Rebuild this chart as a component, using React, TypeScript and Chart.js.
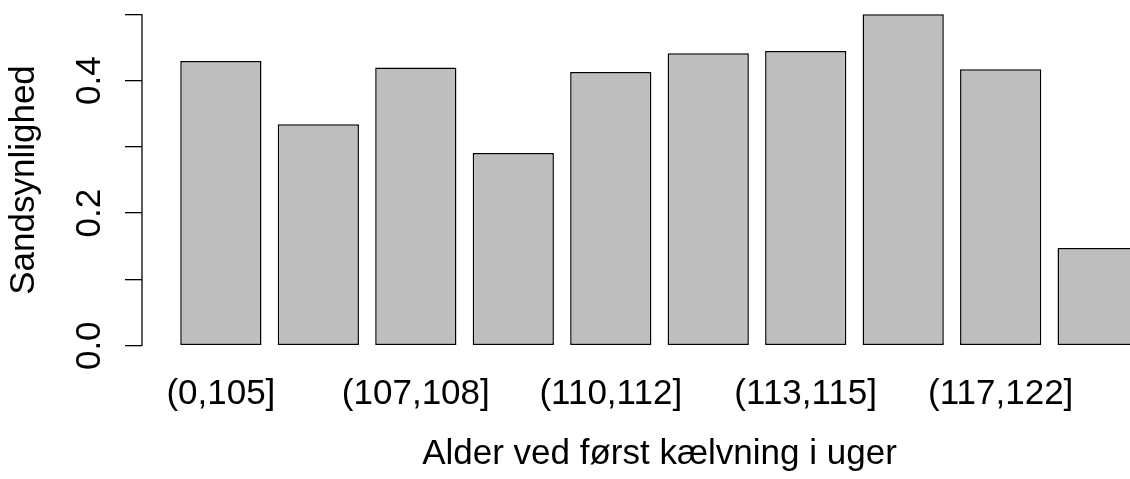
import React, { useEffect, useRef } from "react";
import { Chart, registerables } from "chart.js";

Chart.register(...registerables);

const categories = [
  "(0,105]",
  "(105,107]",
  "(107,108]",
  "(108,110]",
  "(110,112]",
  "(112,113]",
  "(113,115]",
  "(115,117]",
  "(117,122]",
  "(122,150]",
];
const probabilities = [0.4296, 0.3342, 0.4197, 0.2909, 0.413, 0.4412, 0.4447, 0.5, 0.4171, 0.1473];
const yTickValues = [0, 0.1, 0.2, 0.3, 0.4, 0.5];
const yLabelledTicks = [0, 0.2, 0.4];
const xLabelStep = 2;
const xTitle = "Alder ved først kælvning i uger";
const yTitle = "Sandsynlighed";

const FONT = "'Liberation Sans', Arial, Helvetica, sans-serif";

const axisLinePlugin = {
  id: "rAxisLine",
  afterDraw(chart: any) {
    const ctx = chart.ctx;
    const y = chart.scales.y;
    const x = chart.chartArea.left;
    ctx.save();
    ctx.strokeStyle = "#000";
    ctx.lineWidth = 1.3;
    ctx.beginPath();
    ctx.moveTo(x, y.getPixelForValue(yTickValues[0]));
    ctx.lineTo(x, y.getPixelForValue(yTickValues[yTickValues.length - 1]));
    ctx.stroke();
    ctx.restore();
  },
};

const zeroPadding = (scale: any) => {
  scale.paddingLeft = 0;
  scale.paddingRight = 0;
  scale.paddingTop = 0;
  scale.paddingBottom = 0;
};

export default function App() {
  const ref = useRef<HTMLCanvasElement | null>(null);

  useEffect(() => {
    if (!ref.current) return;
    const chart = new Chart(ref.current, {
      type: "bar",
      data: {
        datasets: [
          {
            data: probabilities.map((v, i) => ({ x: i, y: v })),
            backgroundColor: "#BEBEBE",
            borderColor: "#000000",
            borderWidth: 1.5,
            borderSkipped: false,
            barPercentage: 1 / 1.2,
            categoryPercentage: 1,
          },
        ],
      },
      options: {
        animation: false,
        responsive: false,
        devicePixelRatio: 1,
        layout: { autoPadding: false, padding: { left: 0, right: 23, top: 1, bottom: 0 } },
        plugins: { legend: { display: false }, tooltip: { enabled: false } },
        scales: {
          x: {
            type: "linear",
            offset: false,
            min: -0.809,
            max: 9.809,
            grid: { display: false, drawTicks: false, offset: false },
            border: { display: false },
            afterBuildTicks: (scale: any) => {
              scale.ticks = categories.map((_, i) => ({ value: i }));
            },
            afterFit: (scale: any) => {
              scale.height = 120;
              zeroPadding(scale);
            },
            ticks: {
              autoSkip: false,
              maxRotation: 0,
              minRotation: 0,
              padding: 14.5,
              color: "#000",
              font: { family: FONT, size: 35 },
              callback: (value: any) => {
                const i = Math.round(Number(value));
                return i % xLabelStep === 0 ? categories[i] : "";
              },
            },
            title: {
              display: true,
              text: xTitle,
              color: "#000",
              font: { family: FONT, size: 35 },
              padding: { top: 0, bottom: 4 },
            },
          },
          y: {
            type: "linear",
            min: -0.02,
            max: 0.52,
            grid: {
              display: true,
              drawOnChartArea: false,
              drawTicks: true,
              tickLength: 17,
              color: "#000",
              lineWidth: 1.3,
            },
            border: { display: false },
            afterBuildTicks: (scale: any) => {
              scale.ticks = yTickValues.map((v) => ({ value: v }));
            },
            afterFit: (scale: any) => {
              scale.width = 142;
              zeroPadding(scale);
            },
            ticks: {
              autoSkip: false,
              minRotation: 90,
              maxRotation: 90,
              crossAlign: "center",
              padding: 10,
              color: "#000",
              font: { family: FONT, size: 35 },
              callback: (value: any) => {
                const v = Number(value);
                return yLabelledTicks.some((t) => Math.abs(t - v) < 1e-9) ? v.toFixed(1) : "";
              },
            },
            title: {
              display: true,
              text: yTitle,
              color: "#000",
              font: { family: FONT, size: 35 },
              padding: { top: 3, bottom: 0 },
            },
          },
        },
      },
      plugins: [axisLinePlugin],
    } as any);
    return () => chart.destroy();
  }, []);

  return (
    <div
      style={{
        position: "fixed",
        left: 0,
        top: 0,
        width: 1130,
        height: 479,
        overflow: "hidden",
        background: "#fff",
      }}
    >
      <canvas ref={ref} width={1200} height={479} style={{ display: "block" }} />
    </div>
  );
}
